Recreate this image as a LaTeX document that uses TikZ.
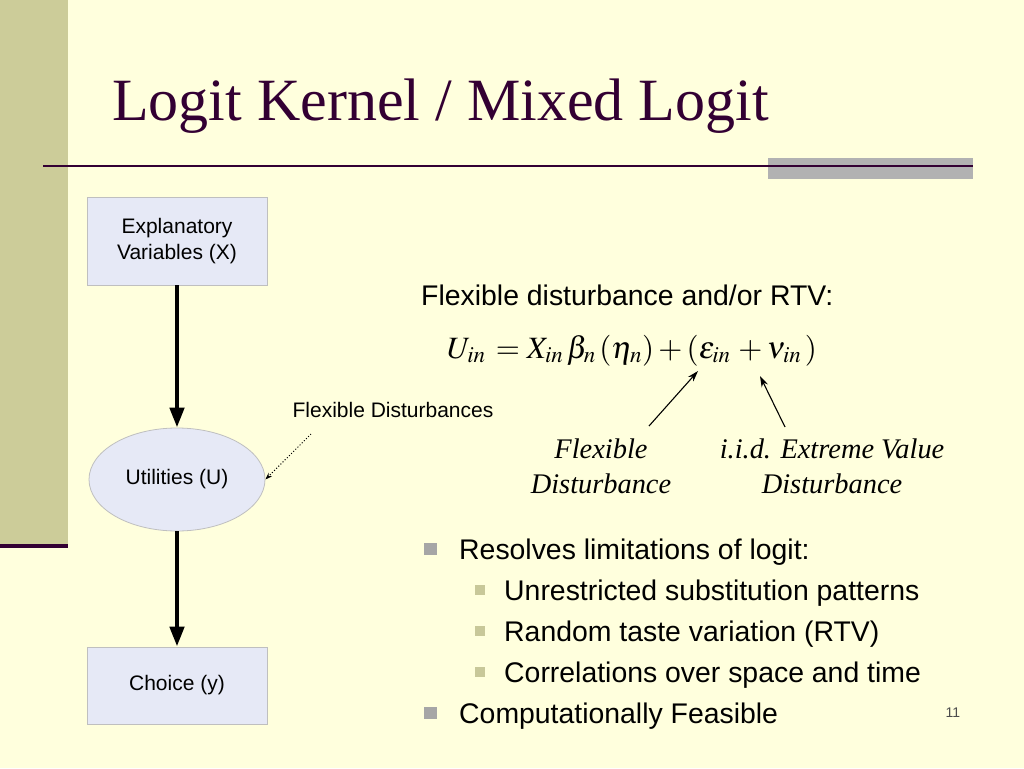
\documentclass[tikz,border=0pt]{standalone}
\usepackage{mathptmx}
\usepackage[no-math]{fontspec}
\setmainfont{Liberation Sans}
\newfontfamily\timesfont{Liberation Serif}
\usetikzlibrary{arrows.meta,shapes.geometric}
\definecolor{bg}{HTML}{FFFFDD}
\definecolor{barcol}{HTML}{CCCC99}
\definecolor{titlecol}{HTML}{330033}
\definecolor{grayrect}{HTML}{B2B2B2}
\definecolor{boxfill}{HTML}{E6E9F6}
\definecolor{boxborder}{HTML}{BFBFBF}
\definecolor{bulgray}{HTML}{A6A6A6}
\definecolor{bulolive}{HTML}{C8C899}
\tikzset{
  box/.style={draw=boxborder, fill=boxfill, line width=0.8pt, align=center,
    font=\fontsize{21}{25.5}\selectfont, inner sep=0pt},
  bigarrow/.style={line width=4.5pt, -{Triangle[length=20pt,width=14pt]}},
  bul/.style={anchor=base west, font=\fontsize{28.4}{34}\selectfont, inner sep=0pt},
  mainsq/.style={fill=bulgray, minimum size=12.5pt, inner sep=0pt},
  subsq/.style={fill=bulolive, minimum size=10pt, inner sep=0pt},
  lab/.style={align=center, font=\timesfont\itshape\fontsize{28.4}{35}\selectfont},
  thinarrow/.style={line width=1.1pt, -{Stealth[length=11pt,width=7pt]}}
}
\begin{document}
\begin{tikzpicture}[x=1pt,y=-1pt]
\useasboundingbox (0,0) rectangle (1024,768);
\fill[bg] (0,0) rectangle (1024,768);
\fill[barcol] (0,0) rectangle (68,545);
\draw[titlecol, line width=4pt] (0,546) -- (68,546);
\fill[grayrect] (768,158) rectangle (973,179);
\draw[titlecol, line width=2.5pt] (43,166) -- (973,166);
\node[anchor=base west, text=titlecol, inner sep=0pt,
  font=\timesfont\fontsize{60}{68}\selectfont] (title) at (112,120) {Logit Kernel / Mixed Logit};

% flow diagram
\node[box, minimum width=180pt, minimum height=88pt] (x) at (177,241) {Explanatory\\Variables (X)};
\node[box, ellipse, minimum width=176pt, minimum height=103pt] (u) at (177,479.5) {Utilities (U)};
\node[box, minimum width=180pt, minimum height=77pt] (y) at (177,685.5) {Choice (y)};
\draw[bigarrow] (x.south) -- (u.north);
\draw[bigarrow] (u.south) -- (y.north);
\node[font=\fontsize{21}{25}\selectfont] (fdl) at (393,410) {Flexible Disturbances};
\coordinate (fds) at (311,434);
\draw[dotted, line width=1pt, -{Stealth[length=7pt,width=5pt]}] (fds) -- (u.east);

% equation
\node[anchor=base west, font=\fontsize{28.4}{34}\selectfont, inner sep=0pt] (head) at (421,305) {Flexible disturbance and/or RTV:};
\node[anchor=base west, inner sep=0pt, font=\fontsize{31}{38}\selectfont] (eq) at (447,358)
  {$U_{in}\, = X_{in}\,\beta_n\,(\eta_n) + (\epsilon_{in}\, + \nu_{in}\,)$};
\node[lab] (l1) at (601,466) {Flexible\\Disturbance};
\node[lab] (l2) at (832,466) {i.i.d. Extreme Value\\Disturbance};
\coordinate (a1s) at (649,426);
\coordinate (a1e) at (698,371);
\coordinate (a2s) at (785,427);
\coordinate (a2e) at (760,376);
\draw[thinarrow] (a1s) -- (a1e);
\draw[thinarrow] (a2s) -- (a2e);

% bullets
\node[mainsq] (b1) at (430.5,549) {};
\node[bul] (t1) at (459,559) {Resolves limitations of logit:};
\node[subsq] (b2) at (479.5,590) {};
\node[bul] (t2) at (504,600) {Unrestricted substitution patterns};
\node[subsq] (b3) at (479.5,631) {};
\node[bul] (t3) at (504,641) {Random taste variation (RTV)};
\node[subsq] (b4) at (479.5,672) {};
\node[bul] (t4) at (504,682) {Correlations over space and time};
\node[mainsq] (b5) at (430.5,713) {};
\node[bul] (t5) at (459,723) {Computationally Feasible};
\node[font=\fontsize{14}{16}\selectfont, text=black!70] (num) at (953,713) {11};
\end{tikzpicture}
\end{document}
